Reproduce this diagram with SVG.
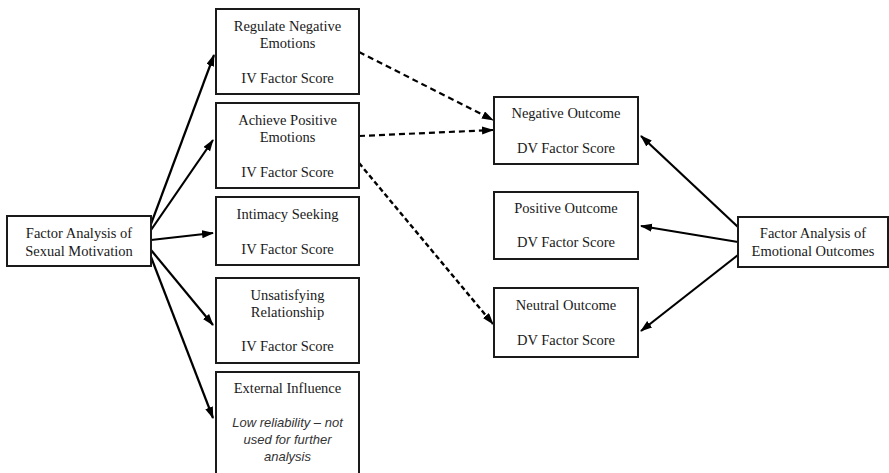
<svg xmlns="http://www.w3.org/2000/svg" width="889" height="473" viewBox="0 0 889 473">
<style>
.box{fill:#fff;stroke:#1a1a1a;stroke-width:2}
.t{font-family:"Liberation Serif","Times New Roman",serif;font-size:14.5px;fill:#1a1a1a;text-anchor:middle}
.i{font-family:"Liberation Sans",Arial,sans-serif;font-style:italic;font-size:13px;fill:#333;text-anchor:middle}
.a{stroke:#000;stroke-width:2.2;fill:none;marker-end:url(#ah)}
.d{stroke:#000;stroke-width:2.2;fill:none;stroke-dasharray:6 4;marker-end:url(#ah)}
.d2{stroke:#000;stroke-width:2.4;fill:none;stroke-dasharray:5 3;marker-end:url(#ah)}
</style>
<defs>
<marker id="ah" markerUnits="userSpaceOnUse" markerWidth="12" markerHeight="10" refX="11" refY="4" orient="auto">
<path d="M0,0 L12,4 L0,8 Z" fill="#000"/>
</marker>
</defs>
<rect width="889" height="473" fill="#fff"/>
<g id="connectors">
<line class="a" x1="151" y1="224" x2="214" y2="55"/>
<line class="a" x1="151" y1="230" x2="213" y2="140"/>
<line class="a" x1="151" y1="240" x2="213" y2="233"/>
<line class="a" x1="151" y1="250" x2="213" y2="325"/>
<line class="a" x1="151" y1="257" x2="213" y2="418"/>
<line class="d" x1="359" y1="52" x2="493" y2="120"/>
<line class="d" x1="359" y1="136" x2="493" y2="130"/>
<line class="d2" x1="359" y1="163" x2="493" y2="324"/>
<line class="a" x1="738" y1="227" x2="641" y2="136"/>
<line class="a" x1="738" y1="242" x2="641" y2="226"/>
<line class="a" x1="738" y1="255" x2="641" y2="331"/>
</g>
<g id="sexual-motivation">
<rect class="box" x="7" y="216" width="144" height="50"/>
<text class="t" x="79" y="238">Factor Analysis of</text>
<text class="t" x="79" y="256">Sexual Motivation</text>
</g>
<g id="regulate-negative">
<rect class="box" x="216" y="9" width="143" height="85"/>
<text class="t" x="287.5" y="31">Regulate Negative</text>
<text class="t" x="287.5" y="48">Emotions</text>
<text class="t" x="287.5" y="83">IV Factor Score</text>
</g>
<g id="achieve-positive">
<rect class="box" x="216" y="103" width="143" height="85"/>
<text class="t" x="287.5" y="125">Achieve Positive</text>
<text class="t" x="287.5" y="142">Emotions</text>
<text class="t" x="287.5" y="177">IV Factor Score</text>
</g>
<g id="intimacy-seeking">
<rect class="box" x="216" y="197" width="143" height="68"/>
<text class="t" x="287.5" y="219">Intimacy Seeking</text>
<text class="t" x="287.5" y="254">IV Factor Score</text>
</g>
<g id="unsatisfying-relationship">
<rect class="box" x="216" y="278" width="143" height="85"/>
<text class="t" x="287.5" y="300">Unsatisfying</text>
<text class="t" x="287.5" y="317">Relationship</text>
<text class="t" x="287.5" y="351">IV Factor Score</text>
</g>
<g id="external-influence">
<rect class="box" x="216" y="372" width="143" height="110"/>
<text class="t" x="287.5" y="393">External Influence</text>
<text class="i" x="287.5" y="427">Low reliability – not</text>
<text class="i" x="287.5" y="444">used for further</text>
<text class="i" x="287.5" y="461">analysis</text>
</g>
<g id="negative-outcome">
<rect class="box" x="494" y="97" width="144" height="67"/>
<text class="t" x="566" y="118">Negative Outcome</text>
<text class="t" x="566" y="153">DV Factor Score</text>
</g>
<g id="positive-outcome">
<rect class="box" x="494" y="192" width="144" height="67"/>
<text class="t" x="566" y="213">Positive Outcome</text>
<text class="t" x="566" y="247">DV Factor Score</text>
</g>
<g id="neutral-outcome">
<rect class="box" x="494" y="288" width="144" height="69"/>
<text class="t" x="566" y="310">Neutral Outcome</text>
<text class="t" x="566" y="345">DV Factor Score</text>
</g>
<g id="emotional-outcomes">
<rect class="box" x="738" y="217" width="150" height="50"/>
<text class="t" x="813" y="238">Factor Analysis of</text>
<text class="t" x="813" y="256">Emotional Outcomes</text>
</g>
</svg>
